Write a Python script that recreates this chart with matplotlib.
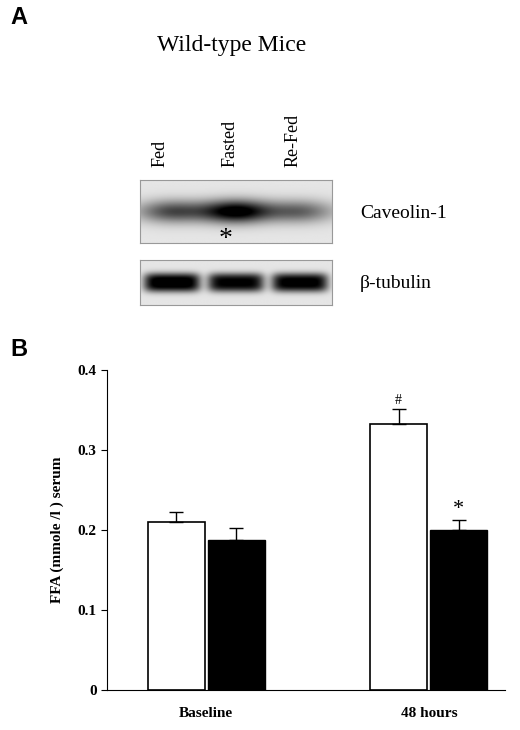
import matplotlib
matplotlib.use("Agg")
import matplotlib.pyplot as plt
import numpy as np

plt.rcParams['font.family'] = ['Liberation Serif', 'DejaVu Serif']

lanes = ["Fed", "Fasted", "Re-Fed"]
cav_intensity = [0.6, 1.0, 0.5]
tub_intensity = [1.0, 0.92, 0.95]

groups = ["Baseline", "48 hours"]
white_vals = [0.21, 0.333]
white_err = [0.012, 0.018]
black_vals = [0.187, 0.2]
black_err = [0.015, 0.013]

fig = plt.figure(figsize=(5.2, 7.3), dpi=100)
W, H = 520, 730

def ax_px(x0, y0, x1, y1):
    return fig.add_axes([x0 / W, 1 - y1 / H, (x1 - x0) / W, (y1 - y0) / H])

fig.text(10 / W, 1 - 18 / H, "A", fontsize=17, weight="bold", family="Liberation Sans", va="center")
fig.text(232 / W, 1 - 45 / H, "Wild-type Mice", fontsize=17, ha="center", va="center")
for x, lab in zip([160, 230, 293], lanes):
    fig.text(x / W, 1 - 167 / H, lab, rotation=90, fontsize=13, ha="center", va="bottom")

def blot(y0, y1, intens, width, sharp, bh, bsharp):
    ax = ax_px(140, y0, 332, y1)
    xs = np.linspace(0, 3, 400)
    ys = np.linspace(-1, 1, 100)
    img = np.full((100, 400), 0.1)
    for i, v in enumerate(intens):
        prof_x = np.exp(-np.abs((xs - (i + 0.5)) / width) ** sharp)
        prof_y = np.exp(-np.abs(ys / bh) ** bsharp)
        img += v * np.outer(prof_y, prof_x)
    ax.imshow(np.clip(img, 0, 1), cmap="gray_r", aspect="auto", vmin=0, vmax=1)
    ax.set_xticks([]); ax.set_yticks([])
    for s in ax.spines.values():
        s.set_color("#999999")
    return ax

blot(180, 243, cav_intensity, 0.55, 2, 0.36, 2)
blot(260, 305, tub_intensity, 0.44, 6, 0.42, 3)
fig.text(226 / W, 1 - 240 / H, "*", fontsize=20, ha="center", va="center")
fig.text(360 / W, 1 - 213 / H, "Caveolin-1", fontsize=14, va="center")
fig.text(360 / W, 1 - 283 / H, "β-tubulin", fontsize=14, va="center")

fig.text(10 / W, 1 - 350 / H, "B", fontsize=17, weight="bold", family="Liberation Sans", va="center")
ax = ax_px(107, 370, 505, 690)
wpos = [0.646, 2.71]
bpos = [1.2, 3.27]
ax.bar(wpos, white_vals, 0.53, color="white", edgecolor="black", linewidth=1.2,
       yerr=[[0, 0], white_err], capsize=5, error_kw=dict(elinewidth=1, capthick=1))
ax.bar(bpos, black_vals, 0.53, color="black", edgecolor="black",
       yerr=[[0, 0], black_err], capsize=5, error_kw=dict(elinewidth=1, capthick=1))
ax.text(wpos[1], 0.362, "#", ha="center", va="center", fontsize=10)
ax.text(bpos[1], 0.225, "*", ha="center", va="center", fontsize=16)
ax.set_xlim(0, 3.7)
ax.set_ylim(0, 0.4)
ax.set_yticks([0, 0.1, 0.2, 0.3, 0.4])
ax.set_yticklabels(["0", "0.1", "0.2", "0.3", "0.4"], fontsize=11, weight="bold")
ax.set_xticks([0.92, 3.0])
ax.set_xticklabels(groups, fontsize=11, weight="bold")
ax.tick_params(axis="x", length=0, pad=12)
ax.tick_params(axis="y", direction="out", length=4)
ax.spines["top"].set_visible(False)
ax.spines["right"].set_visible(False)
ax.set_ylabel("FFA (mmole /l ) serum", fontsize=11, weight="bold", labelpad=10)

fig.savefig("out.png", dpi=100)
